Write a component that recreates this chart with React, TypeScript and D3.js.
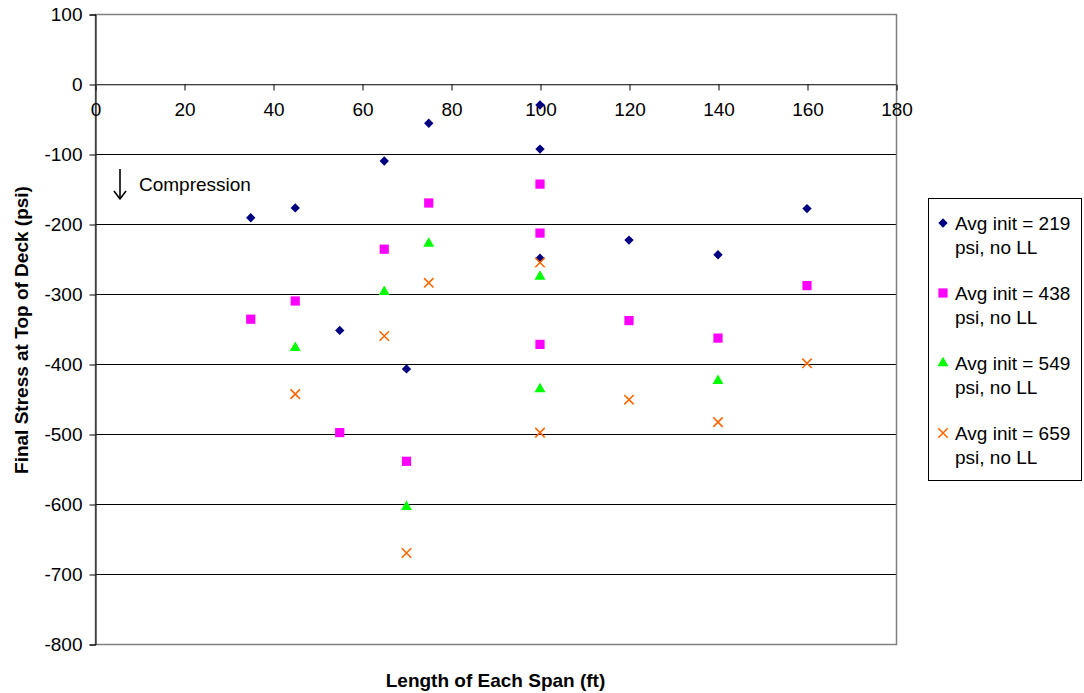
import React, { useEffect, useRef } from 'react';
import * as d3 from 'd3';

const spans219 = [35, 45, 55, 65, 70, 75, 100, 100, 100, 120, 140, 160];
const stress219 = [-191, -177, -352, -110, -407, -56, -30, -93, -249, -223, -244, -178];
const spans438 = [35, 45, 55, 65, 70, 75, 100, 100, 100, 120, 140, 160];
const stress438 = [-336, -310, -498, -236, -539, -170, -143, -213, -372, -338, -363, -288];
const spans549 = [45, 65, 70, 75, 100, 100, 140];
const stress549 = [-377, -297, -604, -228, -275, -436, -424];
const spans659 = [45, 65, 70, 75, 100, 100, 120, 140, 160];
const stress659 = [-443, -360, -670, -284, -255, -498, -451, -483, -399];

const xTicks = [0, 20, 40, 60, 80, 100, 120, 140, 160, 180];
const yTicks = [100, 0, -100, -200, -300, -400, -500, -600, -700, -800];

const seriesNames = ['Avg init = 219', 'Avg init = 438', 'Avg init = 549', 'Avg init = 659'];
const seriesColors = ['#000080', '#FF00FF', '#00FF00', '#FF6600'];
const seriesShapes = ['diamond', 'square', 'triangle', 'cross'];

const FONT = 'Liberation Sans, Arial, sans-serif';

const App = () => {
  const ref = useRef<SVGSVGElement>(null);

  useEffect(() => {
    const svg = d3.select(ref.current);
    svg.selectAll('*').remove();

    const width = 1084;
    const height = 693;
    const plot = { left: 95, right: 896, top: 14, bottom: 644 };

    const x = d3.scaleLinear().domain([0, 180]).range([plot.left, plot.right]);
    const y = d3.scaleLinear().domain([-800, 100]).range([plot.bottom, plot.top]);
    const fmt = (d: any) => String(d);

    svg.append('rect').attr('width', width).attr('height', height).attr('fill', '#fff');

    // gridlines
    svg.append('g')
      .selectAll('line')
      .data(yTicks)
      .join('line')
      .attr('x1', plot.left)
      .attr('x2', plot.right)
      .attr('y1', d => Math.round(y(d)) + 0.5)
      .attr('y2', d => Math.round(y(d)) + 0.5)
      .attr('stroke', '#000')
      .attr('stroke-width', 1);

    // plot border
    svg.append('rect')
      .attr('x', plot.left + 0.5)
      .attr('y', plot.top + 0.5)
      .attr('width', plot.right - plot.left)
      .attr('height', plot.bottom - plot.top)
      .attr('fill', 'none')
      .attr('stroke', '#808080')
      .attr('stroke-width', 1.5);

    // y axis
    const yAxis = svg.append('g')
      .attr('transform', `translate(${plot.left + 0.5},0.5)`)
      .call(d3.axisLeft(y).tickValues(yTicks).tickFormat(fmt).tickSize(6).tickPadding(7));
    yAxis.select('.domain').attr('stroke', '#000');
    yAxis.selectAll('text').attr('font-family', FONT).attr('font-size', 19).attr('fill', '#000');

    // x axis at y = 0
    const xAxis = svg.append('g')
      .attr('transform', `translate(0.5,${Math.round(y(0)) + 0.5})`)
      .call(d3.axisBottom(x).tickValues(xTicks).tickFormat(fmt).tickSize(6).tickPadding(12));
    xAxis.select('.domain').attr('stroke', '#808080');
    xAxis.selectAll('text').attr('font-family', FONT).attr('font-size', 19).attr('fill', '#000');

    const symbolFor = (shape: string) => {
      if (shape === 'diamond') return d3.symbol().type(d3.symbolDiamond2).size(56)();
      if (shape === 'square') return d3.symbol().type(d3.symbolSquare).size(85)();
      if (shape === 'triangle') return d3.symbol().type(d3.symbolTriangle).size(52)();
      return d3.symbol().type(d3.symbolX).size(60)();
    };

    const drawMarker = (g: any, shape: string, color: string) => {
      const p = g.append('path').attr('d', symbolFor(shape));
      if (shape === 'cross') p.attr('fill', 'none').attr('stroke', color).attr('stroke-width', 1.6);
      else p.attr('fill', color);
    };

    const allSeries = [
      { xs: spans219, ys: stress219 },
      { xs: spans438, ys: stress438 },
      { xs: spans549, ys: stress549 },
      { xs: spans659, ys: stress659 },
    ];

    allSeries.forEach((s, i) => {
      const pts = s.xs.map((v, j) => [v, s.ys[j]]);
      svg.append('g')
        .selectAll('g')
        .data(pts)
        .join('g')
        .attr('transform', d => `translate(${x(d[0])},${y(d[1])})`)
        .each(function () {
          drawMarker(d3.select(this), seriesShapes[i], seriesColors[i]);
        });
    });

    // compression note: arrow drawn as a line with a head
    const arrow = svg.append('g').attr('stroke', '#000').attr('stroke-width', 1.6).attr('fill', 'none');
    arrow.append('line').attr('x1', 120).attr('x2', 120).attr('y1', 169).attr('y2', 199);
    arrow.append('path').attr('d', 'M114,191 L120,199 L126,191');
    svg.append('text')
      .attr('x', 139).attr('y', 191)
      .attr('font-family', FONT).attr('font-size', 19)
      .text('Compression');

    // axis titles
    svg.append('text')
      .attr('x', (plot.left + plot.right) / 2).attr('y', 687)
      .attr('text-anchor', 'middle')
      .attr('font-family', FONT).attr('font-size', 19).attr('font-weight', 'bold')
      .text('Length of Each Span (ft)');
    svg.append('text')
      .attr('transform', `translate(28,330) rotate(-90)`)
      .attr('text-anchor', 'middle')
      .attr('font-family', FONT).attr('font-size', 19).attr('font-weight', 'bold')
      .text('Final Stress at Top of Deck (psi)');

    // legend
    const legend = svg.append('g');
    legend.append('rect')
      .attr('x', 928.5).attr('y', 198.5)
      .attr('width', 153).attr('height', 282)
      .attr('fill', '#fff').attr('stroke', '#000').attr('stroke-width', 1);
    seriesNames.forEach((name, i) => {
      const cy = 223 + i * 70;
      const m = legend.append('g').attr('transform', `translate(943,${cy})`);
      drawMarker(m, seriesShapes[i], seriesColors[i]);
      legend.append('text')
        .attr('x', 955).attr('y', cy + 7)
        .attr('font-family', FONT).attr('font-size', 19)
        .text(name);
      legend.append('text')
        .attr('x', 955).attr('y', cy + 31)
        .attr('font-family', FONT).attr('font-size', 19)
        .text('psi, no LL');
    });
  }, []);

  return (
    <div style={{ position: 'absolute', left: 0, top: 0 }}>
      <svg ref={ref} width={1084} height={693}></svg>
    </div>
  );
};

export default App;
